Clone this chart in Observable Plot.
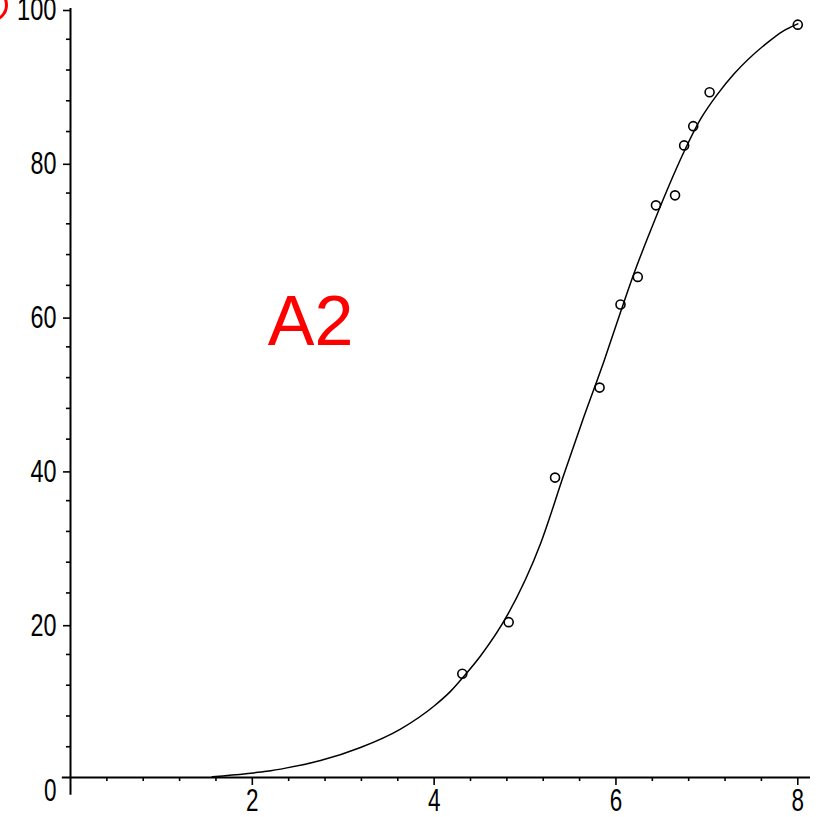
<!DOCTYPE html>
<html>
<head>
<meta charset="utf-8">
<script src="https://cdn.jsdelivr.net/npm/d3@7"></script>
<script src="https://cdn.jsdelivr.net/npm/@observablehq/plot@0.6"></script>
<style>
  html, body { margin: 0; padding: 0; background: #fff; }
  #wrap { position: relative; width: 823px; height: 817px; overflow: hidden; }
  #ring { position: absolute; left: -26px; top: -12px; width: 28px; height: 28px; border: 3.5px solid #ff0000; border-radius: 50%; }
</style>
</head>
<body>
<div id="wrap"><div id="ring"></div></div>
<script>
// Observed data points (x, y)
const pointX = [4.31, 4.82, 5.33, 5.82, 6.05, 6.24, 6.44, 6.65, 6.75, 6.85, 7.03, 8.0];
const pointY = [13.5, 20.2, 39.0, 50.7, 61.5, 65.1, 74.4, 75.7, 82.2, 84.7, 89.1, 97.9];

// Fitted curve
const curveX = [1.56, 1.93, 2.16, 2.38, 2.75, 3.19, 3.63, 4.0, 4.18, 4.33, 4.51, 4.81, 5.17, 5.43, 5.65, 5.87, 6.05, 6.2, 6.38, 6.57, 6.75, 6.93, 7.12, 7.3, 7.67, 7.83, 8.0];
const curveY = [0.1, 0.5, 0.8, 1.25, 2.2, 3.9, 6.3, 9.3, 11.2, 13.2, 15.8, 21.2, 30.4, 39.5, 47.0, 54.2, 60.5, 65.6, 71.1, 76.6, 81.4, 85.6, 88.9, 91.5, 95.6, 97.0, 98.0];

// Axis ticks
const xMajor = [2, 4, 6, 8];
const xMinor = [0.4, 0.8, 1.2, 1.6, 2.4, 2.8, 3.2, 3.6, 4.4, 4.8, 5.2, 5.6, 6.4, 6.8, 7.2, 7.6];
const yMajor = [20, 40, 60, 80, 100];
const yZero = [0];
const yMinor = [4, 8, 12, 16, 24, 28, 32, 36, 44, 48, 52, 56, 64, 68, 72, 76, 84, 88, 92, 96];

// Annotation
const labelText = ["A2"];
const labelX = [2.64];
const labelY = [59.2];

const points = pointX.map((x, i) => ({x, y: pointY[i]}));
const curve = curveX.map((x, i) => ({x, y: curveY[i]}));
const labels = labelText.map((t, i) => ({t, x: labelX[i], y: labelY[i]}));

const tickFont = "'Liberation Sans', Arial, sans-serif";

const chart = Plot.plot({
  width: 823,
  height: 817,
  marginLeft: 70,
  marginRight: 13,
  marginTop: 8,
  marginBottom: 40,
  style: {fontFamily: tickFont, background: "#fff", color: "#000"},
  x: {domain: [0, 8.14]},
  y: {domain: [0, 100]},
  marks: [
    Plot.axisX({ticks: xMinor, tickSize: 4, strokeWidth: 1.6, text: null, label: null}),
    Plot.axisX({ticks: xMajor, tickSize: 8, tickPadding: 3, fontSize: 31, strokeWidth: 1.6, label: null}),
    Plot.axisY({ticks: yMinor, tickSize: 4, strokeWidth: 1.6, text: null, label: null}),
    Plot.axisY({ticks: yMajor, tickSize: 7, tickPadding: 7, fontSize: 31, strokeWidth: 1.6, dy: 2, label: null}),
    Plot.axisY({ticks: yZero, tickSize: 0, tickPadding: 14, fontSize: 31, dy: 13.5, label: null}),
    Plot.ruleY([0], {x1: -0.09, x2: 8.14, stroke: "#000", strokeWidth: 2}),
    Plot.ruleX([0], {y1: -2.3, y2: 100, stroke: "#000", strokeWidth: 2}),
    Plot.line(curve, {x: "x", y: "y", curve: "monotone-x", stroke: "#000", strokeWidth: 1.5}),
    Plot.dot(points, {x: "x", y: "y", r: 4.5, stroke: "#000", strokeWidth: 1.6, fill: "none"}),
    Plot.text(labels, {x: "x", y: "y", text: "t", fill: "#ff0000", fontSize: 70})
  ]
});
// condense tick label glyphs to the reference's narrow digits
chart.querySelectorAll('g[aria-label$="tick label"] text').forEach((t) => {
  const n = t.textContent.length;
  t.setAttribute("textLength", String(n * 13.5 - 1));
  t.setAttribute("lengthAdjust", "spacingAndGlyphs");
  t.style.fontWeight = "300";
});
document.getElementById("wrap").prepend(chart);
</script>
</body>
</html>
